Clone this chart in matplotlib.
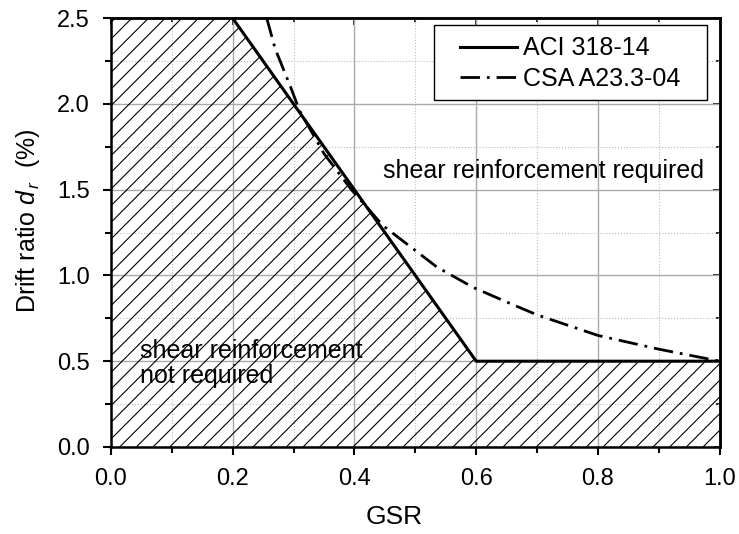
import numpy as np
import matplotlib
matplotlib.use('Agg')
import matplotlib.pyplot as plt
from matplotlib.ticker import MultipleLocator, FormatStrFormatter
from matplotlib.patches import Rectangle

plt.rcParams['font.family'] = ['Liberation Sans', 'DejaVu Sans']
plt.rcParams['mathtext.fontset'] = 'custom'
plt.rcParams['mathtext.it'] = 'Liberation Sans:italic'
plt.rcParams['mathtext.rm'] = 'Liberation Sans'
plt.rcParams['hatch.linewidth'] = 0.8

# ACI 318-14 limit (GSR vs drift ratio %)
aci_gsr = [0.0, 0.2, 0.6, 1.0]
aci_drift = [2.5, 2.5, 0.5, 0.5]

# CSA A23.3-04 limit
csa_gsr = [0.256, 0.27, 0.295, 0.31, 0.35, 0.395, 0.447, 0.535, 0.595, 0.66, 0.7, 0.8, 0.9, 1.0]
csa_drift = [2.5, 2.32, 2.10, 1.96, 1.71, 1.50, 1.29, 1.05, 0.93, 0.83, 0.77, 0.65, 0.57, 0.5]

fig = plt.figure(figsize=(7.39, 5.34), dpi=100)
ax = fig.add_axes([0.150, 0.163, 0.824, 0.803])

# hatched "not required" region below ACI line
ax.fill_between(aci_gsr, 0, aci_drift, facecolor='none', edgecolor='black',
                hatch='//', linewidth=0, zorder=2)

ax.plot(aci_gsr[1:], aci_drift[1:], color='black', lw=2.2, label='ACI 318-14', zorder=4)
ax.plot(csa_gsr, csa_drift, color='black', lw=2.0, dashes=[7, 2.5, 1, 2.5],
        label='CSA A23.3-04', zorder=4)

ax.set_xlim(0, 1.0)
ax.set_ylim(0, 2.5)
ax.xaxis.set_major_locator(MultipleLocator(0.2))
ax.xaxis.set_minor_locator(MultipleLocator(0.1))
ax.yaxis.set_major_locator(MultipleLocator(0.5))
ax.yaxis.set_minor_locator(MultipleLocator(0.25))
ax.xaxis.set_major_formatter(FormatStrFormatter('%.1f'))
ax.yaxis.set_major_formatter(FormatStrFormatter('%.1f'))

ax.grid(which='major', color='#aaaaaa', lw=1.0, ls='-', zorder=0)
ax.grid(which='minor', color='#bbbbbb', lw=0.8, ls=':', zorder=0)
ax.set_axisbelow(True)

ax.tick_params(which='both', direction='out', labelsize=17, width=1.5,
               top=False, right=False)
ax.tick_params(which='major', length=6)
ax.tick_params(which='minor', length=4)
ax.tick_params(axis='x', which='major', pad=9)
ax.tick_params(axis='y', which='major', pad=9)
for s in ax.spines.values():
    s.set_linewidth(1.8)

# inward ticks on top and right
ax2 = ax.secondary_xaxis('top')
ax2.xaxis.set_major_locator(MultipleLocator(0.2))
ax2.xaxis.set_minor_locator(MultipleLocator(0.1))
ax2.tick_params(which='both', direction='in', labeltop=False, width=1.2)
ax2.tick_params(which='major', length=5)
ax2.tick_params(which='minor', length=3)
ax3 = ax.secondary_yaxis('right')
ax3.yaxis.set_major_locator(MultipleLocator(0.5))
ax3.yaxis.set_minor_locator(MultipleLocator(0.25))
ax3.tick_params(which='both', direction='in', labelright=False, width=1.2)
ax3.tick_params(which='major', length=5)
ax3.tick_params(which='minor', length=3)
ax2.spines['top'].set_linewidth(1.8)
ax3.spines['right'].set_linewidth(1.8)

ax.set_xlabel('GSR', fontsize=19)
ax.xaxis.set_label_coords(0.466, -0.135)
ax.set_ylabel(r'Drift ratio $d_{\,r}$  (%)', fontsize=18)
ax.yaxis.set_label_coords(-0.113, 0.527)

ax.text(0.447, 1.61, 'shear reinforcement required', fontsize=18, va='center', ha='left', zorder=5)
ax.text(0.048, 0.484, 'shear reinforcement\nnot required', fontsize=18, va='center', ha='left',
        linespacing=1.05, zorder=5)

# legend frame drawn separately (wider side padding than top/bottom)
ax.add_patch(Rectangle((0.530, 0.809), 0.449, 0.175, transform=ax.transAxes,
                       facecolor='white', edgecolor='black', lw=1.0, zorder=6))
leg = ax.legend(loc='center', bbox_to_anchor=(0.7545, 0.8945), borderaxespad=0,
                fontsize=18, frameon=False, handlelength=2.3, handletextpad=0.25,
                labelspacing=0.25, borderpad=0)
leg.set_zorder(7)

plt.savefig('out.png', dpi=100)
plt.close()
